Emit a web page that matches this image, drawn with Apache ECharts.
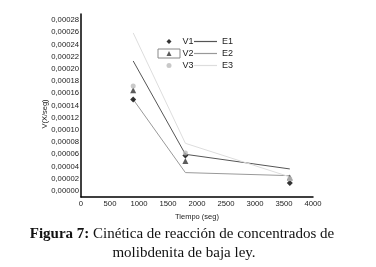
<!DOCTYPE html>
<html>
<head>
<meta charset="utf-8">
<script src="https://cdn.jsdelivr.net/npm/echarts@6/dist/echarts.min.js"></script>
<style>html,body{margin:0;padding:0;background:#fff}#c{width:376px;height:267px}</style>
</head>
<body>
<div id="c"></div>
<script>
var xTicks = [0, 500, 1000, 1500, 2000, 2500, 3000, 3500, 4000];
var V1 = [[900, 0.000150], [1800, 0.000058], [3600, 0.000013]];
var V2 = [[900, 0.000165], [1800, 0.000049], [3600, 0.000022]];
var V3 = [[900, 0.000172], [1800, 0.000062], [3600, 0.000020]];
var E1 = [[900, 0.000213], [1800, 0.000060], [3600, 0.000036]];
var E2 = [[900, 0.000150], [1800, 0.000030], [3600, 0.000025]];
var E3 = [[900, 0.000259], [1800, 0.000078], [3600, 0.000023]];

var chart = echarts.init(document.getElementById('c'), null, {renderer: 'canvas'});
var lbl = {fontFamily: 'Liberation Sans', fontSize: 7.7, color: '#222'};
chart.setOption({
  animation: false,
  grid: {left: 81, right: 63, top: 14, bottom: 70, containLabel: false},
  xAxis: {
    type: 'value', min: xTicks[0], max: xTicks[xTicks.length - 1], interval: xTicks[1] - xTicks[0],
    axisLine: {onZero: false, lineStyle: {color: '#000', width: 1.5}},
    axisTick: {show: false},
    splitLine: {show: false},
    axisLabel: Object.assign({margin: 3, formatter: function (v) { return String(v); }}, lbl),
    name: 'Tiempo (seg)', nameLocation: 'middle', nameGap: 13,
    nameTextStyle: {fontFamily: 'Liberation Sans', fontSize: 7.5, color: '#222'}
  },
  yAxis: {
    type: 'value', min: -0.00001, max: 0.00029, interval: 0.00001,
    axisLine: {show: true, lineStyle: {color: '#000', width: 1.5}},
    axisTick: {show: false},
    splitLine: {show: false},
    axisLabel: Object.assign({
      margin: 2,
      formatter: function (v) {
        var n = Math.round(v * 100000);
        if (n < 0 || n % 2 !== 0 || n > 28) return '';
        return (n / 100000).toFixed(5).replace('.', ',');
      }
    }, lbl)
  },
  legend: [
    {
      data: ['V1', 'V2', 'V3'], orient: 'vertical', left: 166.5, top: 36.5,
      itemWidth: 5, itemHeight: 5, itemGap: 2, padding: 0,
      textStyle: {fontFamily: 'Liberation Sans', fontSize: 9, lineHeight: 10, color: '#222', padding: [0, 0, 0, 6]},
      selectedMode: false
    },
    {
      data: ['E1', 'E2', 'E3'], orient: 'vertical', left: 194, top: 36.5,
      icon: 'rect', itemWidth: 23, itemHeight: 1.2, itemGap: 2, padding: 0,
      textStyle: {fontFamily: 'Liberation Sans', fontSize: 9, lineHeight: 10, color: '#222', padding: [0, 0, 0, 0]},
      selectedMode: false
    }
  ],
  graphic: [
    {type: 'rect', shape: {x: 158, y: 49, width: 22, height: 9}, style: {fill: null, stroke: '#888', lineWidth: 1}, z: 100},
    {type: 'text', x: 45, y: 114, rotation: Math.PI / 2,
      style: {text: 'V(X/seg)', fontFamily: 'Liberation Sans', fontSize: 7.5, fill: '#222', align: 'center', verticalAlign: 'middle'}},
    {type: 'text', x: 182, y: 234,
      style: {
        text: '{b|Figura 7:} Cinética de reacción de concentrados de',
        rich: {b: {fontFamily: 'Liberation Serif', fontWeight: 'bold', fontSize: 15, fill: '#111'}},
        fontFamily: 'Liberation Serif', fontSize: 15, fill: '#111', align: 'center', verticalAlign: 'middle'}},
    {type: 'text', x: 184, y: 253,
      style: {text: 'molibdenita de baja ley.', fontFamily: 'Liberation Serif', fontSize: 15, fill: '#111', align: 'center', verticalAlign: 'middle'}}
  ],
  series: [
    {name: 'E1', type: 'line', data: E1, symbol: 'none', lineStyle: {color: '#555', width: 1}, itemStyle: {color: '#555'}, z: 1},
    {name: 'E2', type: 'line', data: E2, symbol: 'none', lineStyle: {color: '#999', width: 1}, itemStyle: {color: '#999'}, z: 1},
    {name: 'E3', type: 'line', data: E3, symbol: 'none', lineStyle: {color: '#ddd', width: 1}, itemStyle: {color: '#ddd'}, z: 1},
    {name: 'V1', type: 'scatter', data: V1, symbol: 'diamond', symbolSize: 6, itemStyle: {color: '#000'}, z: 3},
    {name: 'V2', type: 'scatter', data: V2, symbol: 'triangle', symbolSize: 6, itemStyle: {color: '#333'}, z: 3},
    {name: 'V3', type: 'scatter', data: V3, symbol: 'circle', symbolSize: 5, itemStyle: {color: '#bbb'}, z: 3}
  ]
});
</script>
</body>
</html>
